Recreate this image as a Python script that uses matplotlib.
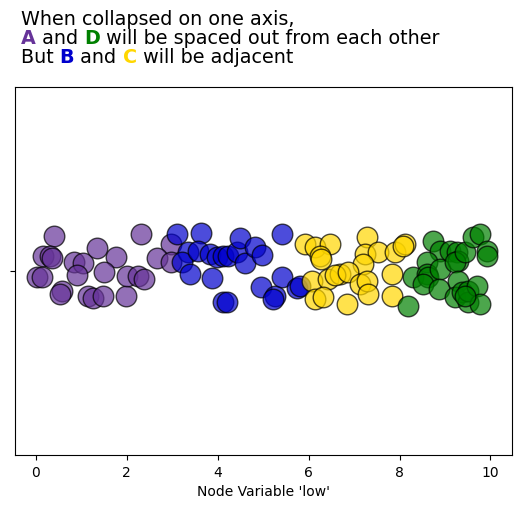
import numpy as np
import matplotlib
matplotlib.use("Agg")
import matplotlib.pyplot as plt

# values: node variable 'low' and vertical jitter
a_x = [0.396, 0.154, 0.308, 0.352, 0.022, 0.132, 0.573, 0.529, 0.837, 1.035,
       0.903, 1.344, 1.762, 1.498, 1.145, 1.256, 1.476, 1.982, 2.004, 2.247,
       2.379, 2.313, 2.974, 2.665, 2.974]
a_y = [0.095, 0.041, 0.041, 0.035, -0.016, -0.016, -0.054, -0.063, 0.024, 0.022,
       -0.011, 0.063, 0.038, -0.003, -0.068, -0.073, -0.068, -0.068, -0.014, -0.014,
       -0.022, 0.101, 0.073, 0.035, 0.024]

b_x = [3.106, 3.634, 3.348, 3.216, 3.568, 3.392, 3.877, 3.833, 3.987, 4.119,
       4.229, 4.427, 4.493, 4.604, 4.824, 4.978, 4.119, 4.207, 4.956, 5.264,
       5.220, 5.419, 5.419, 5.749, 5.815]
b_y = [0.101, 0.103, 0.052, 0.024, 0.054, -0.008, -0.019, 0.046, 0.038, 0.041,
       0.041, 0.052, 0.090, 0.022, 0.065, 0.043, -0.084, -0.084, -0.043, -0.068,
       -0.076, 0.101, -0.016, -0.046, -0.041]

c_x = [5.925, 6.145, 6.476, 6.256, 6.278, 7.291, 7.247, 7.533, 7.203, 6.079,
       6.432, 6.696, 6.586, 6.872, 7.137, 7.291, 7.313, 6.145, 6.322, 6.850,
       7.841, 7.841, 7.907, 8.128, 8.084]
c_y = [0.073, 0.065, 0.073, 0.041, 0.033, 0.092, 0.046, 0.052, 0.019, -0.027,
       -0.022, -0.008, -0.011, -0.003, -0.035, -0.027, -0.063, -0.076, -0.071, -0.090,
       -0.008, -0.068, 0.052, 0.073, 0.068]

d_x = [8.744, 8.899, 8.612, 8.304, 8.612, 8.634, 8.524, 8.899, 8.877, 8.194,
       9.119, 9.273, 9.295, 9.229, 9.449, 9.626, 9.780, 9.934, 9.934, 9.295,
       9.229, 9.383, 9.515, 9.515, 9.714, 9.780, 9.449]
d_y = [0.082, 0.054, 0.024, -0.016, -0.008, -0.016, -0.035, 0.005, -0.049, -0.095,
       0.054, 0.052, 0.027, 0.024, 0.052, 0.092, 0.101, 0.054, 0.041, -0.027,
       -0.071, -0.057, -0.084, -0.054, -0.041, -0.090, -0.068]

groups = ["A", "B", "C", "D"]
colors = {"A": "rebeccapurple", "B": "mediumblue", "C": "gold", "D": "green"}
xs = {"A": a_x, "B": b_x, "C": c_x, "D": d_x}
ys = {"A": a_y, "B": b_y, "C": c_y, "D": d_y}

fig = plt.figure(figsize=(5.2, 5.1), dpi=100)
ax = fig.add_axes([0.029, 0.106, 0.956, 0.721])

for g in groups:
    ax.scatter(xs[g], ys[g], s=220, color=colors[g], alpha=0.7,
               edgecolor="black", linewidth=1)

ax.set_xlim(-0.46, 10.48)
ax.set_ylim(-0.5, 0.5)
ax.set_yticks([0])
ax.set_yticklabels([""])
ax.set_xticks(np.arange(0, 11, 2))
ax.set_xlabel("Node Variable 'low'")

# title built from coloured pieces, each one placed after the previous
fs = 13.8

def chain(y, pieces):
    prev = fig.text(0.040, y, pieces[0][0], color=pieces[0][1], fontsize=fs,
                    fontweight=pieces[0][2], va="baseline")
    for txt, col, w in pieces[1:]:
        prev = ax.annotate(txt, xy=(1, 0), xycoords=prev, va="bottom", ha="left",
                           color=col, fontsize=fs, fontweight=w,
                           annotation_clip=False)

chain(0.951, [("When collapsed on one axis,", "black", "normal")])
chain(0.913, [("A", colors["A"], "bold"), (" and ", "black", "normal"),
              ("D", colors["D"], "bold"),
              (" will be spaced out from each other", "black", "normal")])
chain(0.876, [("But ", "black", "normal"), ("B", colors["B"], "bold"),
              (" and ", "black", "normal"), ("C", colors["C"], "bold"),
              (" will be adjacent", "black", "normal")])

fig.savefig("out.png", dpi=100)
